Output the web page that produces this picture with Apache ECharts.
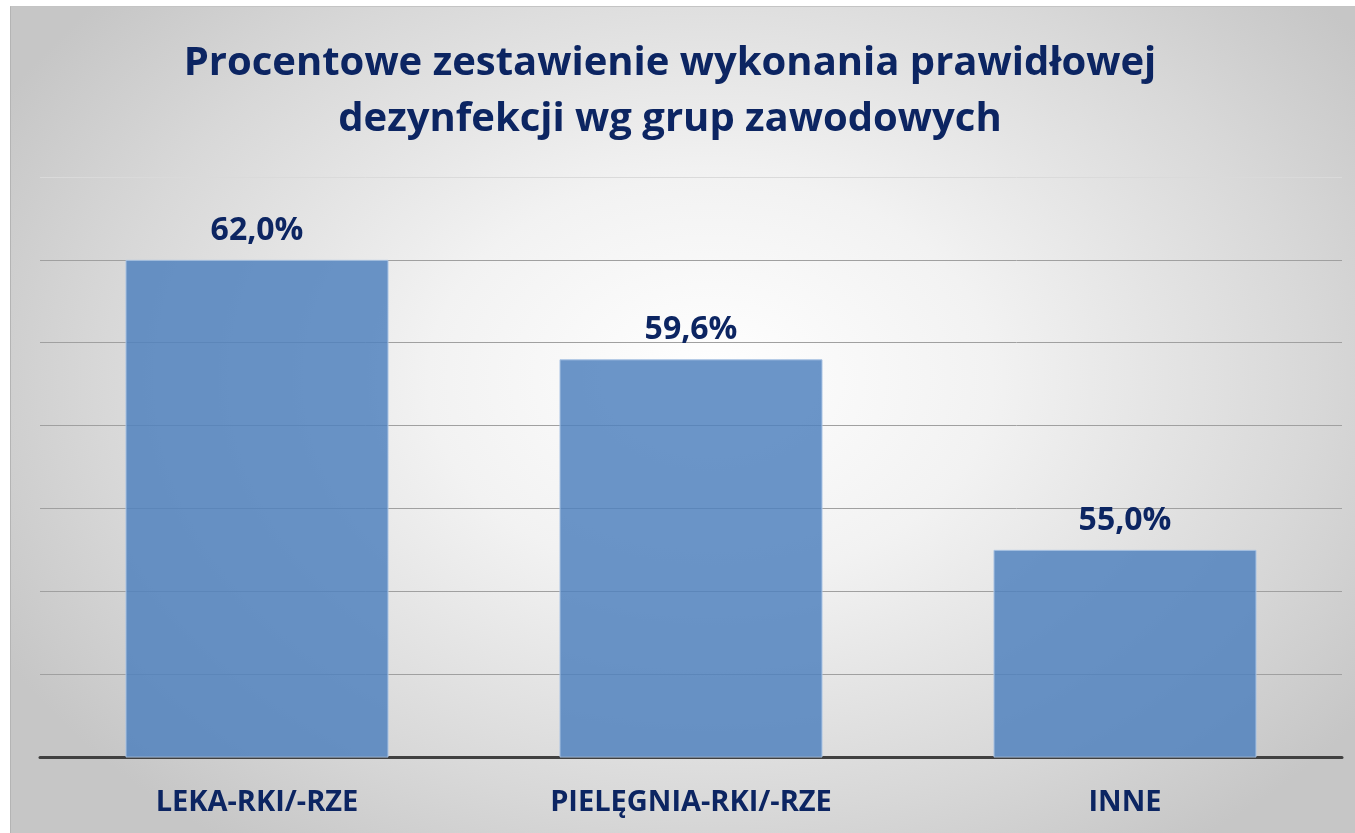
<!DOCTYPE html>
<html>
<head>
<meta charset="utf-8">
<script src="https://cdn.jsdelivr.net/npm/echarts@6/dist/echarts.min.js"></script>
<style>
  html, body { margin: 0; padding: 0; background: #fff; }
  #frame {
    position: absolute; left: 10px; top: 6px; width: 1344px; height: 826px;
    border-left: 1px solid #b4b4b4; border-top: 1px solid #c4c4c4;
    background: radial-gradient(ellipse 60% 70% at 52% 45%, #ffffff 0%, #f2f2f2 35%, #d8d8d8 75%, #c6c6c6 100%);
  }
  #chart { position: absolute; left: 0; top: 0; width: 1355px; height: 833px; }
</style>
</head>
<body>
<div id="frame"></div>
<div id="chart"></div>
<script>
const titleText = 'Procentowe zestawienie wykonania prawidłowej\ndezynfekcji wg grup zawodowych';
const categories = ['LEKA-RKI/-RZE', 'PIELĘGNIA-RKI/-RZE', 'INNE'];
const values = [62.0, 59.6, 55.0];
const yMin = 50;
const yMax = 64;
const yStep = 2;

const navy = '#0c2562';
const font = '"Open Sans", Lato, sans-serif';

const chart = echarts.init(document.getElementById('chart'));

const option = {
  backgroundColor: 'transparent',
  animation: false,
  title: {
    text: titleText,
    left: 665,
    textAlign: 'center',
    top: 31,
    textStyle: {
      color: navy,
      fontFamily: font,
      fontWeight: 'bold',
      fontSize: 40,
      lineHeight: 56
    }
  },
  grid: {
    left: 40,
    right: 13,
    top: 177,
    bottom: 76
  },
  xAxis: {
    type: 'category',
    data: categories,
    axisTick: { show: false },
    axisLine: { lineStyle: { color: '#404040', width: 3 } },
    axisLabel: {
      margin: 31,
      color: navy,
      fontFamily: font,
      fontWeight: 'bold',
      fontSize: 29
    }
  },
  yAxis: {
    type: 'value',
    min: yMin,
    max: yMax,
    interval: yStep,
    axisLabel: { show: false },
    axisLine: { show: false },
    axisTick: { show: false },
    splitLine: {
      lineStyle: {
        color: ['#a0a0a0', '#a0a0a0', '#a0a0a0', '#a0a0a0', '#a0a0a0', '#a0a0a0', '#a0a0a0', '#dadada'],
        width: 1
      }
    }
  },
  series: [{
    type: 'bar',
    data: values,
    barWidth: '60.6%',
    itemStyle: {
      color: 'rgba(79,129,189,0.84)',
      borderColor: '#a9c3e3',
      borderWidth: 1
    },
    label: {
      show: true,
      position: 'top',
      distance: 13,
      color: navy,
      fontFamily: font,
      fontWeight: 'bold',
      fontSize: 32,
      formatter: p => p.value.toFixed(1).replace('.', ',') + '%'
    }
  }]
};

chart.setOption(option);
</script>
</body>
</html>
